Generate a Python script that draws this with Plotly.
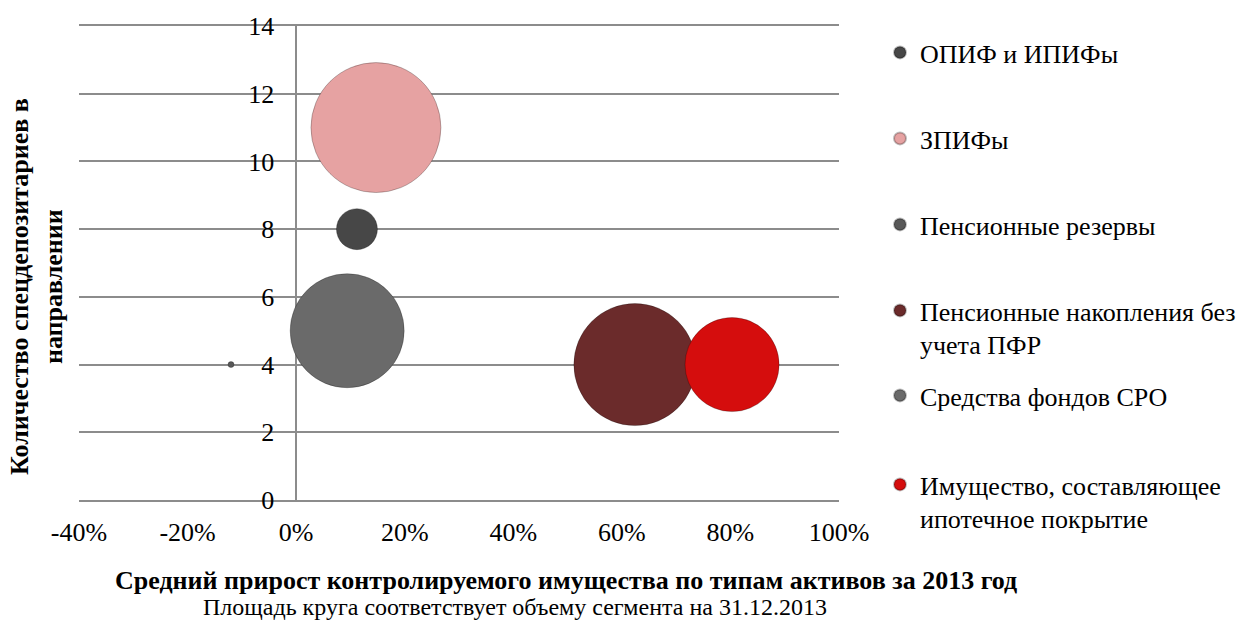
import plotly.graph_objects as go

# ---- data ----
series = [
    "ОПИФ и ИПИФы",
    "ЗПИФы",
    "Пенсионные резервы",
    "Пенсионные накопления без<br>учета ПФР",
    "Средства фондов СРО",
    "Имущество, составляющее<br>ипотечное покрытие",
]
growth = [0.112, 0.147, -0.12, 0.624, 0.094, 0.803]        # x: средний прирост
depositaries = [8, 11, 4, 4, 5, 4]                          # y: количество спецдепозитариев
volume = [168, 1690, 3.6, 1490, 1300, 885]                  # площадь круга (объем сегмента)
colors = ["#474747", "#e6a2a2", "#585858", "#6b2b2b", "#6a6a6a", "#d50d0d"]

x_ticks = [-0.4, -0.2, 0, 0.2, 0.4, 0.6, 0.8, 1.0]
x_tick_labels = ["-40%", "-20%", "0%", "20%", "40%", "60%", "80%", "100%"]
y_ticks = [0, 2, 4, 6, 8, 10, 12, 14]

FONT = "Liberation Serif"
FS = 26
W, H = 1251, 621
L, R, T, B = 79, 412, 26, 121
legend_y_px = [55, 141, 227, 313, 398, 487]
GRID = "#8c8c8c"

fig = go.Figure()
for i, name in enumerate(series):
    lg = "legend" if i == 0 else f"legend{i+1}"
    fig.add_trace(go.Scatter(
        x=[growth[i]], y=[depositaries[i]], mode="markers", name=name,
        legend=lg,
        marker=dict(size=[volume[i]], sizemode="area", sizeref=0.2, sizemin=1,
                    color=colors[i], opacity=1,
                    line=dict(color="rgba(0,0,0,0.25)", width=1)),
    ))

pw = W - L - R
ph = H - T - B
legend_defs = {}
for i, ypx in enumerate(legend_y_px):
    key = "legend" if i == 0 else f"legend{i+1}"
    legend_defs[key] = dict(
        x=(880 - L) / pw, xanchor="left",
        y=(H - B - (ypx - 26)) / ph, yanchor="top",
        font=dict(family=FONT, size=FS, color="#000"),
        bgcolor="rgba(0,0,0,0)", itemsizing="constant", valign="top",
        borderwidth=0, tracegroupgap=0,
    )

fig.update_layout(
    width=W, height=H,
    margin=dict(l=L, r=R, t=T, b=B, autoexpand=False),
    paper_bgcolor="white", plot_bgcolor="white",
    font=dict(family=FONT, size=FS, color="#000"),
    showlegend=True,
    xaxis=dict(range=[-0.4, 1.0], tickvals=x_ticks, ticktext=x_tick_labels,
               showgrid=False, zeroline=True, zerolinecolor=GRID, zerolinewidth=1.5,
               showline=True, linecolor=GRID, linewidth=1.5, mirror=True,
               ticks="", ticklabelstandoff=8,
               tickfont=dict(family=FONT, size=FS)),
    yaxis=dict(range=[0, 14], tickvals=y_ticks, anchor="free", position=0.4 / 1.4,
               showgrid=True, gridcolor=GRID, gridwidth=1.5,
               zeroline=False, showline=False, ticks="", ticklabelstandoff=22,
               tickfont=dict(family=FONT, size=FS)),
    annotations=[
        dict(text="<b>Количество спецдепозитариев в<br>направлении</b>",
             xref="paper", yref="paper", x=(36 - L) / pw, y=(H - B - 287) / ph,
             xanchor="center", yanchor="middle", textangle=-90, showarrow=False,
             font=dict(family=FONT, size=FS)),
        dict(text="<b>Средний прирост контролируемого имущества по типам активов за 2013 год</b>",
             xref="paper", yref="paper", x=(566 - L) / pw, y=-(580 - (H - B)) / ph,
             xanchor="center", yanchor="middle", showarrow=False,
             font=dict(family=FONT, size=FS)),
        dict(text="Площадь круга соответствует объему сегмента на 31.12.2013",
             xref="paper", yref="paper", x=(515 - L) / pw, y=-(607 - (H - B)) / ph,
             xanchor="center", yanchor="middle", showarrow=False,
             font=dict(family=FONT, size=24)),
    ],
    **legend_defs,
)

fig.write_html("out.html", config={"displayModeBar": False},
               post_script="document.body.style.margin='0px';")
